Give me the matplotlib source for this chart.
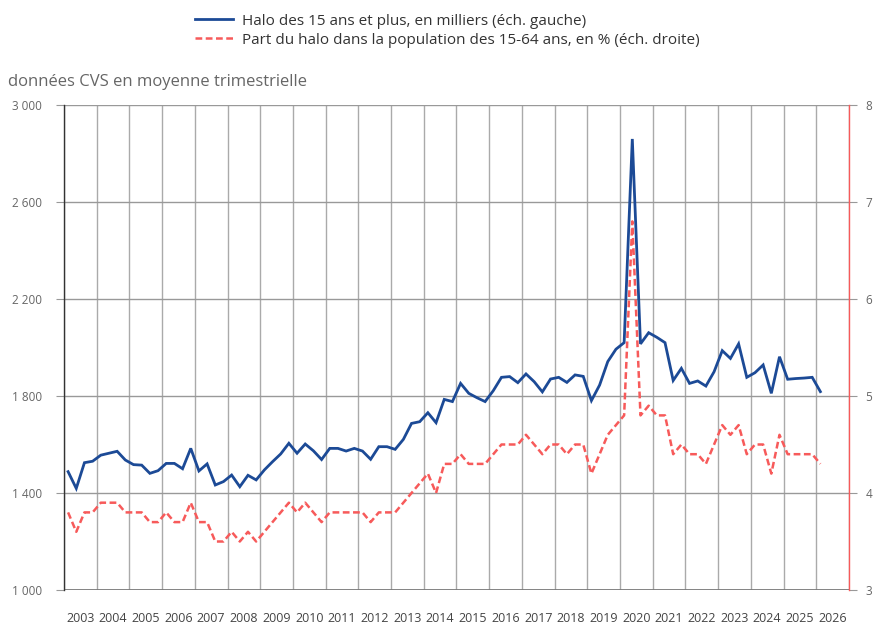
import numpy as np
import matplotlib
matplotlib.use("Agg")
import matplotlib.pyplot as plt
from matplotlib.ticker import FixedLocator, FuncFormatter, NullFormatter

plt.rcParams['font.family'] = ['Open Sans', 'DejaVu Sans']

# quarterly data, 2003Q1 -> 2026Q1
halo = [1488, 1419, 1525, 1531,
        1556, 1564, 1572, 1536,
        1517, 1515, 1481, 1492,
        1522, 1522, 1500, 1584,
        1491, 1520, 1433, 1447,
        1474, 1426, 1473, 1454,
        1495, 1529, 1561, 1605,
        1564, 1602, 1574, 1538,
        1584, 1584, 1573, 1584,
        1573, 1539, 1591, 1591,
        1580, 1621, 1687, 1694,
        1731, 1690, 1786, 1777,
        1852, 1811, 1793, 1777,
        1822, 1877, 1880, 1855,
        1891, 1859, 1817, 1870,
        1877, 1856, 1887, 1881,
        1781, 1845, 1942, 1993,
        2020, 2860, 2015, 2061,
        2042, 2020, 1864, 1914,
        1852, 1862, 1841, 1900,
        1987, 1955, 2015, 1877,
        1896, 1928, 1811, 1962,
        1869, 1872, 1874, 1877,
        1818]

part = [3.8, 3.6, 3.8, 3.8,
        3.9, 3.9, 3.9, 3.8,
        3.8, 3.8, 3.7, 3.7,
        3.8, 3.7, 3.7, 3.9,
        3.7, 3.7, 3.5, 3.5,
        3.6, 3.5, 3.6, 3.5,
        3.6, 3.7, 3.8, 3.9,
        3.8, 3.9, 3.8, 3.7,
        3.8, 3.8, 3.8, 3.8,
        3.8, 3.7, 3.8, 3.8,
        3.8, 3.9, 4.0, 4.1,
        4.2, 4.0, 4.3, 4.3,
        4.4, 4.3, 4.3, 4.3,
        4.4, 4.5, 4.5, 4.5,
        4.6, 4.5, 4.4, 4.5,
        4.5, 4.4, 4.5, 4.5,
        4.2, 4.4, 4.6, 4.7,
        4.8, 6.8, 4.8, 4.9,
        4.8, 4.8, 4.4, 4.5,
        4.4, 4.4, 4.3, 4.5,
        4.7, 4.6, 4.7, 4.4,
        4.5, 4.5, 4.2, 4.6,
        4.4, 4.4, 4.4, 4.4,
        4.3]

years = list(range(2003, 2027))
left_ticks = [1000, 1400, 1800, 2200, 2600, 3000]
right_ticks = [3, 4, 5, 6, 7, 8]

label_halo = "Halo des 15 ans et plus, en milliers (éch. gauche)"
label_part = "Part du halo dans la population des 15-64 ans, en % (éch. droite)"

blue = "#1c4a96"
red = "#f75a5a"
grey_txt = "#666666"

x = 2003 + (np.arange(len(halo)) + 0.5) / 4

fig = plt.figure(figsize=(8.76, 6.25), dpi=100)
ax = fig.add_axes([64 / 876, 1 - 590 / 625, (849 - 64) / 876, (590 - 105) / 625])
ax2 = ax.twinx()

ax.set_xlim(2003, 2027)
ax.set_ylim(1000, 3000)
ax2.set_ylim(3, 8)

# year boundaries as grid, labels centred in each year
ax.xaxis.set_major_locator(FixedLocator(list(range(2003, 2028))))
ax.xaxis.set_major_formatter(NullFormatter())
ax.xaxis.set_minor_locator(FixedLocator([y + 0.5 for y in years]))
ax.xaxis.set_minor_formatter(FuncFormatter(lambda v, p: str(int(v))))
ax.tick_params(axis='x', which='major', length=0)
ax.tick_params(axis='x', which='minor', length=0, pad=16, labelsize=9, labelcolor="#444444")
ax.grid(axis='x', which='major', color="#aaaaaa", linewidth=1)

ax.set_yticks(left_ticks)
ax.yaxis.set_major_formatter(FuncFormatter(lambda v, p: f"{v:,.0f}".replace(",", " ")))
ax.tick_params(axis='y', length=6, width=0.8, color="#999999", pad=10,
               labelsize=8.5, labelcolor=grey_txt)
ax.grid(axis='y', color="#999999", linewidth=1)
ax.set_axisbelow(True)

ax2.set_yticks(right_ticks)
ax2.tick_params(axis='y', length=6, width=0.8, color="#999999", pad=6,
                labelsize=8.5, labelcolor=grey_txt)

for a in (ax, ax2):
    a.spines['top'].set_visible(False)
    a.spines['bottom'].set_visible(False)
ax.spines['left'].set_color("#333333")
ax.spines['left'].set_linewidth(1)
ax.spines['right'].set_visible(False)
ax2.spines['left'].set_visible(False)
ax2.spines['right'].set_color(red)
ax2.spines['right'].set_linewidth(1)
ax.axhline(1000, color="#7a7a7a", linewidth=2, zorder=1.5)

l1, = ax.plot(x, halo, color=blue, linewidth=2, solid_joinstyle='miter', zorder=3)
l2, = ax2.plot(x, part, color=red, linewidth=1.8, linestyle=(0, (2.7, 1.4)), zorder=3)

fig.legend([l1, l2], [label_halo, label_part], loc='upper left',
           bbox_to_anchor=(181 / 876, 1 - 0 / 625), frameon=False,
           fontsize=11, handlelength=2.5, handletextpad=0.6, labelspacing=0.25,
           labelcolor="#333333")

fig.text(8 / 876, 1 - 82 / 625, "données CVS en moyenne trimestrielle",
         fontsize=12, color=grey_txt, va='center', ha='left')

fig.savefig("out.png", dpi=100)
